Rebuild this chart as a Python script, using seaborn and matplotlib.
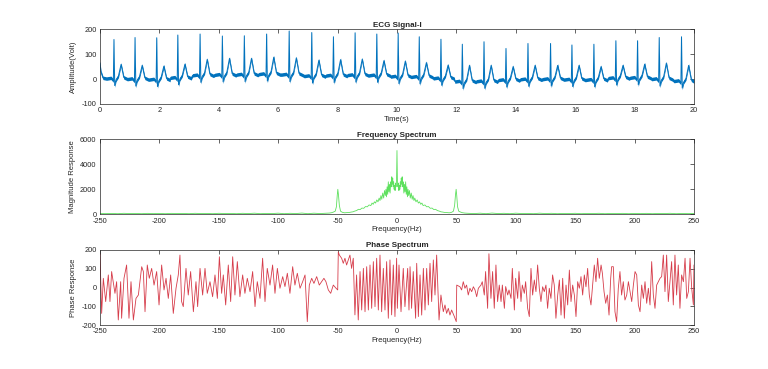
import matplotlib
matplotlib.use("Agg")
import matplotlib.pyplot as plt
import seaborn as sns
import pandas as pd

# ECG signal (time in s, amplitude), read beat by beat off the picture
ecg_time = [
    0.00, 0.03, 0.10,
    0.22, 0.37, 0.45, 0.47, 0.495, 0.54, 0.62, 0.71, 0.80, 0.92,
    0.93, 1.08, 1.16, 1.18, 1.205, 1.25, 1.33, 1.42, 1.51, 1.63,
    1.66, 1.81, 1.89, 1.91, 1.935, 1.98, 2.06, 2.15, 2.24, 2.36,
    2.37, 2.52, 2.60, 2.62, 2.645, 2.69, 2.77, 2.86, 2.95, 3.07,
    3.12, 3.27, 3.35, 3.37, 3.395, 3.44, 3.52, 3.61, 3.70, 3.82,
    3.87, 4.02, 4.10, 4.12, 4.145, 4.19, 4.27, 4.36, 4.45, 4.57,
    4.61, 4.76, 4.84, 4.86, 4.885, 4.93, 5.01, 5.10, 5.19, 5.31,
    5.36, 5.51, 5.59, 5.61, 5.635, 5.68, 5.76, 5.85, 5.94, 6.06,
    6.12, 6.27, 6.35, 6.37, 6.395, 6.44, 6.52, 6.61, 6.70, 6.82,
    6.88, 7.03, 7.11, 7.13, 7.155, 7.20, 7.28, 7.37, 7.46, 7.58,
    7.61, 7.76, 7.84, 7.86, 7.885, 7.93, 8.01, 8.10, 8.19, 8.31,
    8.34, 8.49, 8.57, 8.59, 8.615, 8.66, 8.74, 8.83, 8.92, 9.04,
    9.07, 9.22, 9.30, 9.32, 9.345, 9.39, 9.47, 9.56, 9.65, 9.77,
    9.79, 9.94, 10.02, 10.04, 10.065, 10.11, 10.19, 10.28, 10.37, 10.49,
    10.50, 10.65, 10.73, 10.75, 10.775, 10.82, 10.90, 10.99, 11.08, 11.20,
    11.23, 11.38, 11.46, 11.48, 11.505, 11.55, 11.63, 11.72, 11.81, 11.93,
    11.95, 12.10, 12.18, 12.20, 12.225, 12.27, 12.35, 12.44, 12.53, 12.65,
    12.68, 12.83, 12.91, 12.93, 12.955, 13.00, 13.08, 13.17, 13.26, 13.38,
    13.42, 13.57, 13.65, 13.67, 13.695, 13.74, 13.82, 13.91, 14.00, 14.12,
    14.16, 14.31, 14.39, 14.41, 14.435, 14.48, 14.56, 14.65, 14.74, 14.86,
    14.92, 15.07, 15.15, 15.17, 15.195, 15.24, 15.32, 15.41, 15.50, 15.62,
    15.64, 15.79, 15.87, 15.89, 15.915, 15.96, 16.04, 16.13, 16.22, 16.34,
    16.38, 16.53, 16.61, 16.63, 16.655, 16.70, 16.78, 16.87, 16.96, 17.08,
    17.12, 17.27, 17.35, 17.37, 17.395, 17.44, 17.52, 17.61, 17.70, 17.82,
    17.85, 18.00, 18.08, 18.10, 18.125, 18.17, 18.25, 18.34, 18.43, 18.55,
    18.58, 18.73, 18.81, 18.83, 18.855, 18.90, 18.98, 19.07, 19.16, 19.28,
    19.33, 19.48, 19.56, 19.58, 19.605, 19.65, 19.73, 19.82, 19.91, 20.00,
]
ecg_amp = [
    65, 30, 5,
    2, 5, -6, 159, -26, -3, 12, 59, 7, 0,
    0, 3, -8, 167, -28, -5, 10, 55, 5, -2,
    -2, 1, -10, 166, -30, -7, 8, 52, 3, -4,
    5, 8, -3, 177, -23, 0, 15, 60, 10, 3,
    15, 18, 7, 181, -13, 10, 25, 79, 20, 13,
    17, 20, 9, 173, -11, 12, 27, 83, 22, 15,
    18, 21, 10, 174, -10, 13, 28, 83, 23, 16,
    20, 23, 12, 181, -8, 15, 30, 88, 25, 18,
    18, 21, 10, 193, -10, 13, 28, 85, 23, 16,
    12, 15, 4, 187, -16, 7, 22, 76, 17, 10,
    14, 17, 6, 170, -14, 9, 24, 78, 19, 12,
    16, 19, 8, 186, -12, 11, 26, 80, 21, 14,
    15, 18, 7, 181, -13, 10, 25, 74, 20, 13,
    10, 13, 2, 185, -18, 5, 20, 72, 15, 8,
    9, 12, 1, 170, -19, 4, 19, 66, 14, 7,
    3, 6, -5, 160, -25, -2, 13, 56, 8, 1,
    -10, -7, -18, 140, -38, -15, 0, 55, -5, -12,
    -9, -6, -17, 150, -37, -14, 1, 55, -4, -11,
    -4, -1, -12, 123, -32, -9, 6, 50, 1, -6,
    -1, 2, -9, 143, -29, -6, 9, 55, 4, -3,
    0, 3, -8, 143, -28, -5, 10, 55, 5, -2,
    -2, 1, -10, 137, -30, -7, 8, 55, 3, -4,
    -3, 0, -11, 140, -31, -8, 7, 50, 2, -5,
    4, 7, -4, 154, -24, -1, 14, 55, 9, 2,
    5, 8, -3, 154, -23, 0, 15, 60, 10, 3,
    0, 3, -8, 167, -28, -5, 10, 64, 5, -2,
    -8, -5, -16, 170, -36, -13, 2, 55, -3, -10,
]

# magnitude spectrum, positive half (Hz, magnitude); the plot is symmetric
spec_freq = [0, 0.4, 0.8, 1.2, 1.6, 2.0, 2.4, 2.8, 3.2, 3.6, 4.0, 4.4, 4.8, 5.2,
             5.8, 6.3, 6.8, 7.3, 7.8, 8.3, 8.8, 9.3, 9.8, 10.5, 11.2, 12, 12.8,
             13.5, 14.3, 15, 16, 17, 18, 19, 20, 21, 22, 23.5, 25, 26.5, 28,
             29.5, 31, 32.5, 34, 35.5, 37, 38.5, 40, 42, 44, 46, 47.5, 48.5,
             49.3, 49.8, 50.3, 51, 52, 53.5, 55, 57, 60, 65, 70, 75, 80, 85, 90,
             95, 100, 105, 110, 115, 120, 125, 130, 135, 140, 145, 150, 155,
             160, 165, 170, 175, 180, 185, 190, 195, 200, 205, 210, 215, 220,
             225, 230, 235, 240, 245, 250]
spec_mag = [5100, 2600, 2200, 2500, 1900, 2300, 2000, 2600, 2200, 2900, 2400,
            3000, 2200, 2600, 1700, 2400, 1800, 2600, 1600, 2200, 1400, 2000,
            1500, 1900, 1300, 1700, 1200, 1500, 1100, 1300, 1000, 1150, 900,
            1000, 800, 900, 700, 750, 600, 620, 480, 500, 380, 400, 300, 260,
            200, 180, 150, 140, 120, 160, 250, 700, 1600, 2000, 1500, 600, 250,
            180, 130, 100, 80, 60, 90, 50, 100, 60, 80, 50, 90, 60, 70, 50, 90,
            60, 80, 50, 70, 60, 80, 50, 70, 60, 80, 50, 70, 60, 75, 50, 70, 55,
            75, 50, 70, 60, 80, 50, 70, 55, 60]

# phase spectrum (Hz, degrees)
phase_freq = [
    -250.0, -248.6, -247.2, -245.2, -243.0, -241.6, -240.2, -237.4, -236.0, -234.6,
    -232.6, -231.8, -229.8, -227.6, -225.6, -223.9, -221.9, -219.7, -217.7, -214.9,
    -213.5, -212.1, -210.2, -208.5, -206.5, -204.5, -202.3, -200.3, -198.1, -196.1,
    -194.4, -192.5, -190.5, -188.3, -186.0, -184.1, -182.7, -181.3, -179.9, -177.6,
    -175.7, -173.7, -171.4, -169.2, -167.8, -165.8, -163.6, -161.6, -159.7, -157.4,
    -155.2, -153.2, -151.2, -149.5, -147.6, -146.2, -144.2, -142.0, -140.0, -138.3,
    -136.4, -134.4, -132.2, -129.9, -128.0, -126.0, -123.7, -121.5, -119.5, -117.6,
    -115.3, -113.1, -111.1, -109.2, -106.9, -104.7, -102.7, -100.7, -98.5, -96.2,
    -94.3, -92.3, -90.1, -87.8, -85.9, -83.9, -81.6, -79.4, -77.4, -75.5,
    -73.8, -71.8, -69.9, -67.6, -65.4, -63.4, -61.5, -59.8, -57.8, -55.8,
    -53.6, -51.3, -49.9, -49.4, -48.5, -46.6, -45.2, -43.8, -42.4, -41.0,
    -39.6, -38.2, -36.8, -35.4, -34.0, -32.6, -31.1, -29.7, -28.3, -26.9,
    -25.5, -24.1, -22.7, -21.3, -19.9, -18.5, -17.1, -15.7, -14.3, -12.9,
    -11.5, -10.1, -8.7, -7.3, -5.9, -4.5, -3.1, -1.7, -0.3,
    0.3, 1.7, 3.4, 5.3, 6.7, 9.0, 10.1, 11.0, 12.3, 13.7,
    15.7, 16.6, 18.0, 19.4, 20.8, 22.2, 23.6, 25.0, 26.4, 27.8,
    29.2, 30.6, 32.0, 33.4, 35.4, 37.0, 39.0, 40.4, 41.8, 43.2,
    44.6, 46.0, 48.3, 49.9, 50.3, 53.0, 54.4, 55.8, 57.2, 58.6,
    60.0, 61.4, 62.9, 64.3, 65.7, 67.1, 68.5, 70.7, 71.8, 73.5,
    74.6, 76.3, 77.4, 79.1, 80.5, 81.9, 83.3, 84.7, 86.1,
    87.6, 88.7, 90.4, 91.5, 93.2, 94.3, 96.0, 97.1, 98.8, 99.9,
    101.6, 102.7, 104.4, 105.5, 107.2, 108.3, 110.0, 111.4, 112.8, 114.2,
    115.6, 117.0, 118.4, 119.8, 121.2, 122.6, 124.0, 125.4, 126.8, 128.2,
    129.6, 131.0, 132.4, 133.8, 135.3, 136.7, 138.1, 139.5, 140.9, 142.3,
    143.7, 145.1, 146.5, 147.9, 149.3, 150.7, 152.1, 153.5, 154.9, 156.3,
    157.7, 159.1, 160.5, 161.9, 163.3, 164.7, 166.1, 167.5, 168.9, 170.3,
    171.8, 172.9, 174.3, 175.7, 177.1, 178.5, 179.9, 180.7, 182.1, 183.5,
    184.9, 186.3, 187.7, 189.1, 190.5, 191.9, 193.4, 194.8, 196.2, 197.6,
    199.0, 200.4, 201.8, 203.2, 204.6, 206.0, 207.4, 208.8, 210.2, 211.6,
    213.0, 214.4, 215.8, 217.2, 218.6, 220.0, 221.4, 222.8, 224.2, 225.6,
    227.0, 228.4, 229.8, 231.2, 232.6, 234.0, 235.4, 236.8, 238.2, 239.6,
    241.1, 242.5, 243.9, 245.3, 246.7, 248.1, 249.5, 250.0,
]
phase_deg = [
    180, -138, 49, -75, 67, -75, 85, -31, 31, -173,
    31, -164, 49, 120, -164, 31, -173, -58, -40, 111,
    85, -129, 120, 49, 102, 13, 85, -93, 120, -13,
    49, -58, 67, -138, -4, 67, 173, -75, -102, 102,
    -40, 85, -129, 31, -102, 102, -40, 102, -31, 31,
    -49, 67, -58, 164, -31, 67, -93, 120, -75, 164,
    -40, 138, -49, 67, -31, 49, -22, 85, -102, 31,
    -58, 156, -75, 102, 13, 120, -31, 102, -4, 58,
    5, 76, -31, 111, 13, 76, -4, 31, 67, -182,
    13, 49, 22, 58, 13, 31, 49, 31, -13, -31,
    13, -4, -13, 190, 173, 156, 129, 156, 120, 147,
    173, 102, 156, -146, 67, -173, 85, -120, 102, -129,
    111, -120, 120, -111, 138, -102, 156, -120, 173, -129,
    102, -120, 138, -164, 147, -146, 120, -155, 156,
    -111, 120, -129, 102, -102, 102, -120, 111, -111, 85,
    -164, 129, -155, 67, -147, 102, -120, 102, -93, 129,
    -75, 147, -40, 173, -173, -40, -129, -93, -138, -111,
    -147, -120, -155, -182, 13, 4, -13, 31, -4, 13,
    -40, -4, -22, 4, -13, -49, -4, 13, 31, -40,
    85, -111, 180, -58, 85, -111, 120, -75, 13,
    -75, 13, -111, 5, -40, -13, -58, 102, -120, 49,
    -58, 85, -75, 13, -31, 31, -111, -155, 102, -40,
    40, -22, 120, -4, -75, 4, -22, 13, -111, -4,
    -58, 67, 13, -164, -40, 40, -147, 49, -164, 13,
    -93, 93, -75, 13, -40, -155, 31, -4, 58, -40,
    67, 4, 102, -40, -93, 13, 120, 31, 156, 49,
    120, 76, -22, -84, -40, -147, 49, 111, 111, -129,
    -182, -4, 85, -40, 31, -67, -40, 31, -22, -75,
    13, 85, 67, -93, -129, 13, -58, 31, -84, -4,
    -93, 138, -40, -111, 13, 31, 49, 58, 173, -22,
    173, -75, 31, 138, -93, 173, -40, 120, -111, 67,
    31, 156, -58, -22, 156, -4, -93, 120,
]

ecg = pd.DataFrame({"t": ecg_time, "amp": ecg_amp})
full_freq = [-f for f in spec_freq[::-1]] + spec_freq[1:]
full_mag = spec_mag[::-1] + spec_mag[1:]
spec = pd.DataFrame({"f": full_freq, "mag": full_mag})
phase = pd.DataFrame({"f": phase_freq, "ph": phase_deg})

sns.set_style("white")
plt.rcParams['font.family'] = ['Liberation Sans', 'DejaVu Sans']
plt.rcParams['axes.unicode_minus'] = False

fig = plt.figure(figsize=(7.68, 3.69), dpi=100)
ax1 = fig.add_axes([0.1302, 0.7182, 0.7734, 0.2024])
ax2 = fig.add_axes([0.1302, 0.4192, 0.7734, 0.2033])
ax3 = fig.add_axes([0.1302, 0.1192, 0.7734, 0.2033])

blue = '#0072BD'
ax1.fill_between(ecg["t"], ecg["amp"] - 7, ecg["amp"] + 7, color=blue, lw=0)
sns.lineplot(data=ecg, x="t", y="amp", ax=ax1, color=blue, lw=0.7,
             estimator=None, sort=False)
ax1.set_xlim(0, 20)
ax1.set_ylim(-100, 200)
ax1.set_xticks(range(0, 21, 2))
ax1.set_yticks([-100, 0, 100, 200])
ax1.set_title('ECG Signal-I', fontsize=5.8, fontweight='bold', pad=2)
ax1.set_xlabel('Time(s)')
ax1.set_ylabel('Amplitude(Volt)')

sns.lineplot(data=spec, x="f", y="mag", ax=ax2, color='#5EE05E', lw=0.6,
             estimator=None, sort=False)
ax2.set_xlim(-250, 250)
ax2.set_ylim(0, 6000)
ax2.set_yticks([0, 2000, 4000, 6000])
ax2.set_title('Frequency Spectrum', fontsize=5.8, fontweight='bold', pad=2)
ax2.set_xlabel('Frequency(Hz)')
ax2.set_ylabel('Magnitude Response')

sns.lineplot(data=phase, x="f", y="ph", ax=ax3, color='#D63C4A', lw=0.6,
             estimator=None, sort=False)
ax3.set_xlim(-250, 250)
ax3.set_ylim(-200, 200)
ax3.set_yticks([-200, -100, 0, 100, 200])
ax3.set_title('Phase Spectrum', fontsize=5.8, fontweight='bold', pad=2)
ax3.set_xlabel('Frequency(Hz)')
ax3.set_ylabel('Phase Response')

for ax in (ax1, ax2, ax3):
    if ax is not ax1:
        ax.set_xticks(range(-250, 251, 50))
    ax.tick_params(direction='in', length=3, width=0.5, top=True, right=True,
                   labelsize=5.3, colors='#262626', pad=2.5)
    ax.xaxis.label.set_size(5.5)
    ax.yaxis.label.set_size(5.5)
    ax.xaxis.labelpad = 1
    ax.yaxis.labelpad = 3
    for s in ax.spines.values():
        s.set_color('#262626')
        s.set_linewidth(0.5)

fig.savefig('out.png', dpi=100, facecolor='white')
